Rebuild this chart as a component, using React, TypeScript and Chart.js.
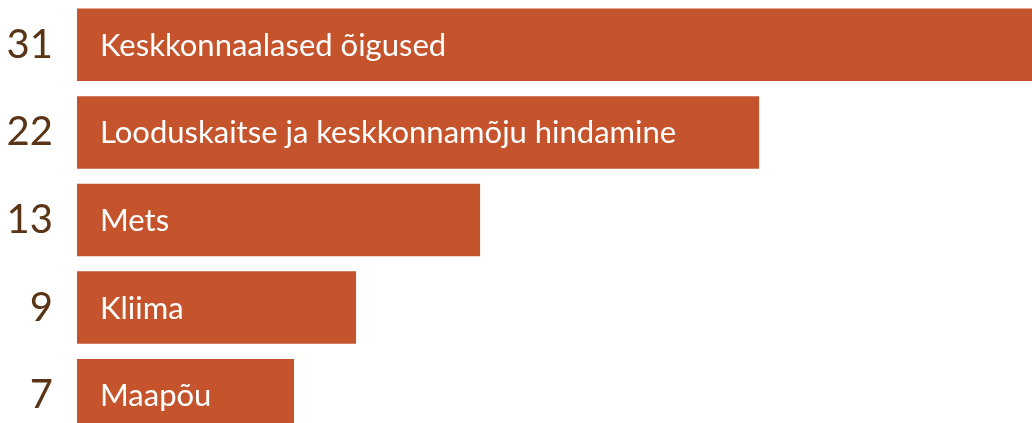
import React, { useEffect, useRef } from "react";
import { Chart, registerables } from "chart.js";

Chart.register(...registerables);

const categories: string[] = [
  "Keskkonnaalased õigused",
  "Looduskaitse ja keskkonnamõju hindamine",
  "Mets",
  "Kliima",
  "Maapõu",
];
const values: number[] = [31, 22, 13, 9, 7];

const BAR_COLOR = "#C5532B";
const NUM_COLOR = "#5A3415";
const FONT = "Lato";

const innerLabels = {
  id: "innerLabels",
  afterDatasetsDraw(chart: any) {
    const ctx = chart.ctx;
    const meta = chart.getDatasetMeta(0);
    ctx.save();
    ctx.fillStyle = "#FFFFFF";
    ctx.font = `31px ${FONT}`;
    ctx.textAlign = "left";
    ctx.textBaseline = "middle";
    meta.data.forEach((bar: any, i: number) => {
      ctx.fillText(categories[i], bar.base + 23, bar.y + 1);
    });
    ctx.restore();
  },
};

export default function App() {
  const ref = useRef<HTMLCanvasElement | null>(null);
  useEffect(() => {
    document.body.style.margin = "0";
    if (!ref.current) return;
    const chart = new Chart(ref.current, {
      type: "bar",
      data: {
        labels: categories,
        datasets: [
          {
            data: values,
            backgroundColor: BAR_COLOR,
            borderWidth: 0,
            barPercentage: 0.828,
            categoryPercentage: 1,
          },
        ],
      },
      options: {
        indexAxis: "y",
        responsive: false,
        animation: false,
        layout: { padding: 0 },
        plugins: {
          legend: { display: false },
          tooltip: { enabled: false },
        },
        scales: {
          x: {
            display: false,
            min: 0,
            max: 30.8,
          },
          y: {
            grid: { display: false, drawTicks: false },
            border: { display: false },
            afterFit(scale: any) {
              scale.width = 77;
              scale.paddingTop = 0;
              scale.paddingBottom = 0;
            },
            ticks: {
              padding: 24,
              color: NUM_COLOR,
              font: { family: FONT, size: 40 },
              callback: (_v: any, i: number) => String(values[i]),
            },
          },
        },
      },
      plugins: [innerLabels],
    });
    return () => chart.destroy();
  }, []);
  return (
    <div style={{ position: "relative", width: 1032, height: 423, overflow: "hidden" }}>
      <canvas
        ref={ref}
        width={1032}
        height={438}
        style={{ position: "absolute", left: 0, top: 1, width: 1032, height: 438 }}
      />
    </div>
  );
}
